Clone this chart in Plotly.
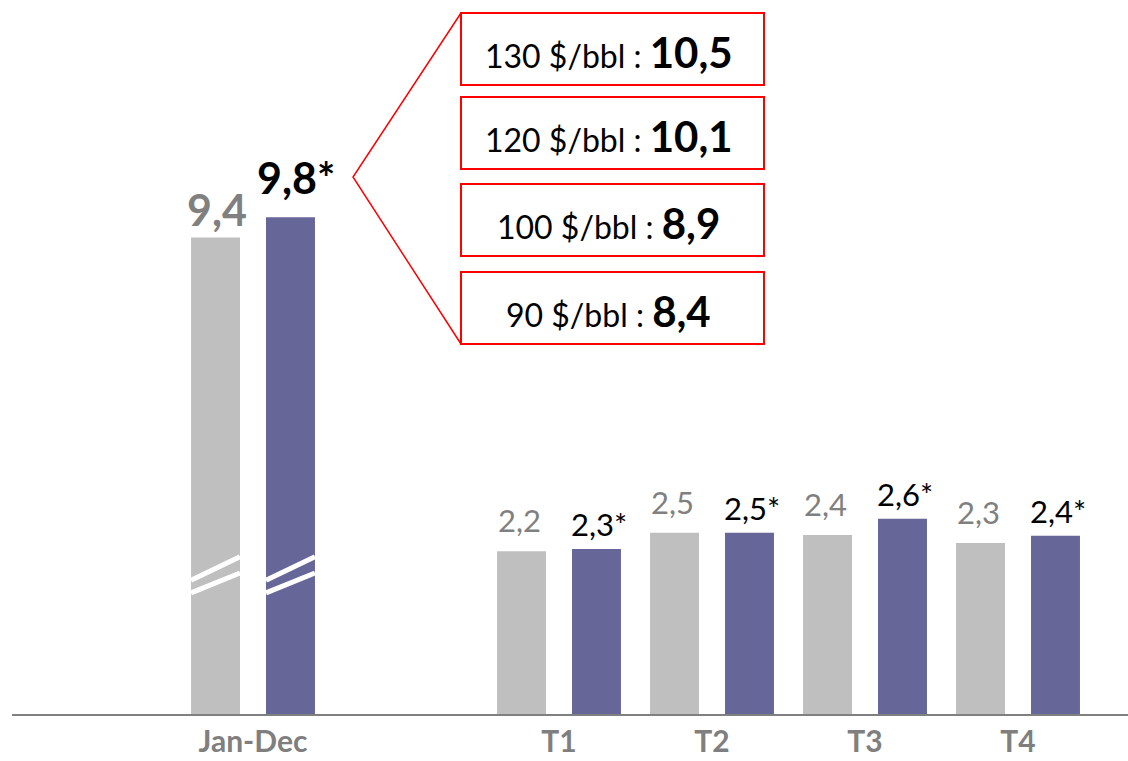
import plotly.graph_objects as go

# ---------------- data ----------------
categories = ["Jan-Dec", "T1", "T2", "T3", "T4"]
cat_pos = [0, 2, 3, 4, 5]

annual_prev = [9.4]
annual_curr = [9.8]
annual_prev_labels = ["9,4"]
annual_curr_labels = ["9,8*"]

quarter_prev = [2.20, 2.45, 2.42, 2.31]
quarter_curr = [2.23, 2.45, 2.64, 2.41]
quarter_prev_labels = ["2,2", "2,5", "2,4", "2,3"]
quarter_curr_labels = ["2,3*", "2,5*", "2,6*", "2,4*"]

scenario_prices = ["130 $/bbl", "120 $/bbl", "100 $/bbl", "90 $/bbl"]
scenario_values = ["10,5", "10,1", "8,9", "8,4"]

# ---------------- style ----------------
GRAY = "#BFBFBF"
PURPLE = "#666699"
LABEL_GRAY = "#808080"
RED = "#FF0000"
FONT = "Lato"

W, H = 1128, 761
ML, MR, MT, MB = 12, 0, 0, 47
PW, PH = W - ML - MR, H - MT - MB

BAR_W = 0.32
OFF_PREV = -0.405
OFF_CURR = 0.085

Y_RANGE = [0, PH / 74.0]
Y2_RANGE = [0, PH / 50.7]
X_RANGE = [-(253 - ML) / 153.0, (W - MR - 253) / 153.0]


def px_x(px):
    return (px - ML) / PW


def px_y(py):
    return (MT + PH - py) / PH


fig = go.Figure()

fig.add_trace(go.Bar(x=cat_pos[:1], y=annual_prev, yaxis="y2", width=BAR_W,
                     offset=OFF_PREV, marker=dict(color=GRAY, line=dict(width=0)),
                     hoverinfo="skip"))
fig.add_trace(go.Bar(x=cat_pos[:1], y=annual_curr, yaxis="y2", width=BAR_W,
                     offset=OFF_CURR, marker=dict(color=PURPLE, line=dict(width=0)),
                     hoverinfo="skip"))
fig.add_trace(go.Bar(x=cat_pos[1:], y=quarter_prev, width=BAR_W, offset=OFF_PREV,
                     marker=dict(color=GRAY, line=dict(width=0)), hoverinfo="skip"))
fig.add_trace(go.Bar(x=cat_pos[1:], y=quarter_curr, width=BAR_W, offset=OFF_CURR,
                     marker=dict(color=PURPLE, line=dict(width=0)), hoverinfo="skip"))

annotations = []
# annual labels
for xs, ys, labs, off, col, ysh, xsh in [
    (cat_pos[:1], annual_prev, annual_prev_labels, OFF_PREV, LABEL_GRAY, 0, 1),
    (cat_pos[:1], annual_curr, annual_curr_labels, OFF_CURR, "#000000", 12, 6),
]:
    for x, y, t in zip(xs, ys, labs):
        annotations.append(dict(x=x + off + BAR_W / 2, y=y, xref="x", yref="y2",
                                text="<b>%s</b>" % t, showarrow=False,
                                yanchor="bottom", xanchor="center", yshift=ysh,
                                xshift=xsh,
                                font=dict(family=FONT, size=43, color=col)))
# quarterly labels
for xs, ys, labs, off, col, ysh, xsh in [
    (cat_pos[1:], quarter_prev, quarter_prev_labels, OFF_PREV, LABEL_GRAY, 10, -2),
    (cat_pos[1:], quarter_curr, quarter_curr_labels, OFF_CURR, "#000000", 4, 3),
]:
    for x, y, t in zip(xs, ys, labs):
        annotations.append(dict(x=x + off + BAR_W / 2, y=y, xref="x", yref="y",
                                text=t, showarrow=False,
                                yanchor="bottom", xanchor="center", yshift=ysh,
                                xshift=xsh,
                                font=dict(family=FONT, size=31, color=col)))

shapes = []
# break marks on the annual bars (white diagonal stripes)
for off in (OFF_PREV, OFF_CURR):
    x0 = cat_pos[0] + off
    x1 = x0 + BAR_W
    for (ya, yb) in [(2.64, 3.10), (2.39, 2.78)]:
        shapes.append(dict(type="line", xref="x", yref="y2", x0=x0, x1=x1,
                           y0=ya, y1=yb, line=dict(color="white", width=5)))

# scenario boxes
box_tops = [13, 97, 184, 272]
box_h = 72
bx0, bx1 = 461, 764
for top, price, val in zip(box_tops, scenario_prices, scenario_values):
    shapes.append(dict(type="rect", xref="paper", yref="paper",
                       x0=px_x(bx0), x1=px_x(bx1), y0=px_y(top + box_h), y1=px_y(top),
                       line=dict(color=RED, width=2), fillcolor="rgba(0,0,0,0)"))
    annotations.append(dict(x=px_x((bx0 + bx1) / 2 - 4), y=px_y(top + box_h / 2 + 3),
                            xref="paper", yref="paper", showarrow=False,
                            xanchor="center", yanchor="middle",
                            text="%s : <b><span style='font-size:42px'>%s</span></b>" % (price, val),
                            font=dict(family=FONT, size=32, color="#000000")))

# callout lines
shapes.append(dict(type="path", xref="paper", yref="paper",
                   path="M %f %f L %f %f L %f %f" % (px_x(bx0), px_y(13), px_x(353), px_y(177),
                                                     px_x(bx0), px_y(344)),
                   line=dict(color=RED, width=1.5)))

fig.update_layout(
    width=W, height=H,
    margin=dict(l=ML, r=MR, t=MT, b=MB, pad=0, autoexpand=False),
    paper_bgcolor="white", plot_bgcolor="white",
    barmode="overlay", showlegend=False,
    xaxis=dict(range=X_RANGE, tickmode="array", tickvals=cat_pos,
               ticktext=["<b>%s</b>" % c for c in categories],
               tickfont=dict(family=FONT, size=30, color="#7F7F7F"),
               automargin=False,
               showline=True, linecolor="#808080", linewidth=2,
               showgrid=False, zeroline=False, ticks=""),
    yaxis=dict(range=Y_RANGE, visible=False, showgrid=False, zeroline=False),
    yaxis2=dict(range=Y2_RANGE, overlaying="y", visible=False, showgrid=False,
                zeroline=False),
    annotations=annotations, shapes=shapes,
)

fig.write_html("out.html")
